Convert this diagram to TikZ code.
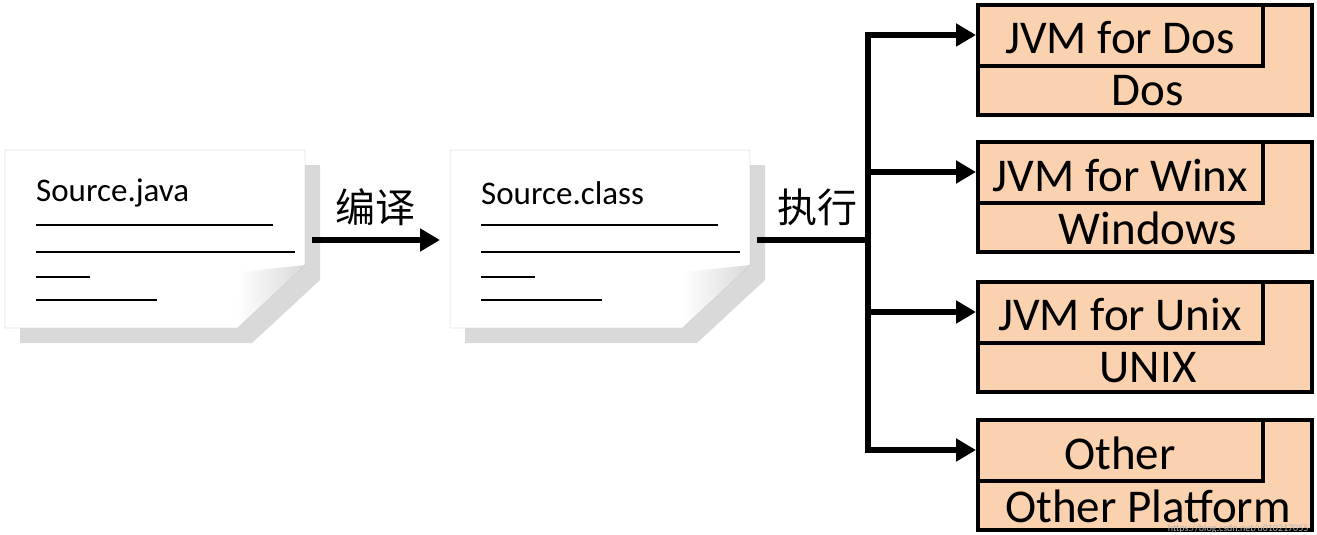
\documentclass[tikz,border=0pt]{standalone}
\usepackage{fontspec}
\setmainfont{Carlito}
\newfontfamily\cjk{Noto Sans CJK SC}
\usetikzlibrary{arrows.meta}
\definecolor{peach}{HTML}{FAD2B0}
\begin{document}
\begin{tikzpicture}[x=1pt,y=-1pt,
  arr/.style={line width=6pt,-{Triangle[length=20pt,width=22pt]}},
  trunk/.style={line width=6pt},
  outerbox/.style={draw,line width=4pt,fill=peach},
  innerbox/.style={draw,line width=4pt},
  big/.style={font=\fontsize{47}{50}\selectfont,inner sep=0pt},
  doctext/.style={font=\fontsize{33}{36}\selectfont,anchor=west,inner sep=0pt},
  dline/.style={line width=1.4pt},
  lbl/.style={font=\cjk\fontsize{40}{44}\selectfont,inner sep=0pt}]
\useasboundingbox (0,0) rectangle (1317,535);
% documents
\foreach \dx/\nm/\tx in {0/d1/Source.java,445/d2/Source.class}{
  \begin{scope}[xshift=\dx pt]
  \fill[black!15] (20,165) -- (320,165) -- (320,280) -- (252,343) -- (20,343) -- cycle;
  \draw[black!30,fill=white] (5,150) -- (305,150) -- (305,265) -- (237,328) -- (5,328) -- cycle;
  \shade[left color=white,right color=black!15] (237,328) -- (240,272) -- (305,265) -- cycle;
  \node[doctext] (\nm) at (36,193) {\tx};
  \draw[dline] (36,225) -- (273,225);
  \draw[dline] (36,252) -- (295,252);
  \draw[dline] (36,277) -- (90,277);
  \draw[dline] (36,300) -- (157,300);
  \end{scope}}
\coordinate (d1r) at (312,240);
\coordinate (d2l) at (440,240);
\coordinate (d2r) at (757,240);
\draw[arr] (d1r) -- (d2l);
\node[lbl] (l1) at (375,207) {编译};
\node[lbl] (l2) at (817,207) {执行};
% trunk
\coordinate (tj) at (871,240);
\coordinate (tt) at (868,32);
\coordinate (tb) at (868,453);
\draw[trunk] (d2r) -- (tj);
\draw[trunk] (tt) -- (tb);
% boxes
\foreach \y/\nm/\a/\b in {5/b1/JVM for Dos/Dos,142/b2/JVM for Winx/Windows,282/b3/JVM for Unix/UNIX,420/b4/Other/Other Platform}{
  \draw[outerbox] (978,\y) rectangle (1312,\y+110);
  \draw[innerbox] (978,\y) rectangle (1263,\y+61);
  \node[big] (\nm t) at (1120,\y+33) {\a};
  \node[big] (\nm b) at (1148,\y+86) {\b};
  \coordinate (\nm in) at (976,\y+30);
  \coordinate (\nm s) at (865,\y+30);
  \draw[arr] (\nm s) -- (\nm in);
}
\node[font=\fontsize{10}{11}\selectfont,text=black!30,anchor=east] (wm) at (1312,529) {https://blog.csdn.net/u010217055};
\end{tikzpicture}
\end{document}
